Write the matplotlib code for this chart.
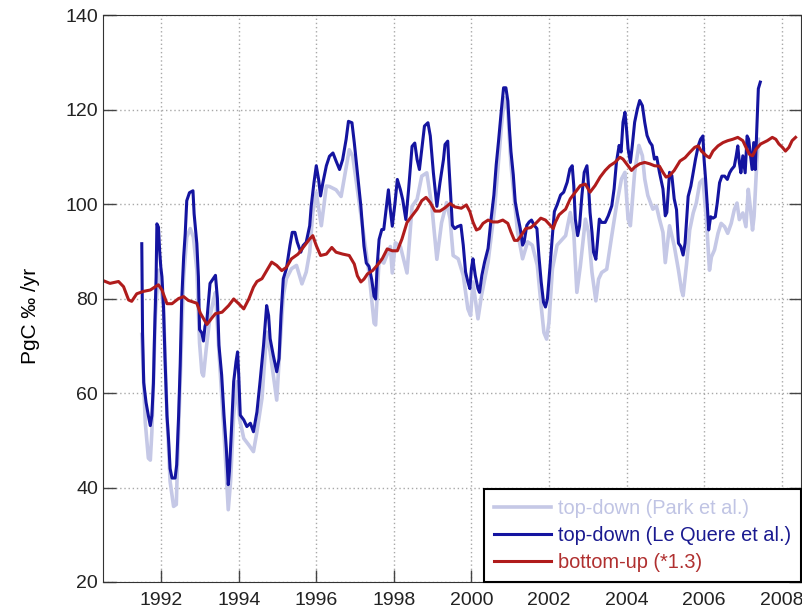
import matplotlib
matplotlib.use("Agg")
import matplotlib.pyplot as plt
from matplotlib.ticker import MultipleLocator

plt.rcParams['font.family'] = ['Liberation Sans', 'DejaVu Sans']

# top-down (Park et al.)
park_t = [1991.50, 1991.59, 1991.67, 1991.72, 1991.76, 1991.80, 1991.85, 1991.93, 1992.06, 1992.15,
          1992.23, 1992.32, 1992.39, 1992.42, 1992.49, 1992.58, 1992.66, 1992.75, 1992.83, 1992.92,
          1992.99, 1993.05, 1993.09, 1993.16, 1993.26, 1993.35, 1993.40, 1993.49, 1993.62, 1993.73,
          1993.79, 1993.87, 1993.96, 1994.02, 1994.13, 1994.26, 1994.38, 1994.47, 1994.60, 1994.72,
          1994.81, 1994.98, 1995.06, 1995.15, 1995.23, 1995.36, 1995.49, 1995.63, 1995.74, 1995.83,
          1995.91, 1996.00, 1996.13, 1996.26, 1996.34, 1996.51, 1996.64, 1996.85, 1996.94, 1997.06,
          1997.19, 1997.36, 1997.49, 1997.53, 1997.62, 1997.74, 1997.91, 1997.96, 1998.04, 1998.17,
          1998.34, 1998.47, 1998.60, 1998.72, 1998.85, 1998.98, 1999.11, 1999.23, 1999.36, 1999.45,
          1999.53, 1999.66, 1999.79, 1999.91, 1999.98, 2000.04, 2000.17, 2000.26, 2000.43, 2000.60,
          2000.77, 2000.85, 2000.94, 2001.02, 2001.19, 2001.32, 2001.45, 2001.57, 2001.70, 2001.79,
          2001.87, 2001.94, 2002.00, 2002.09, 2002.21, 2002.43, 2002.55, 2002.64, 2002.72, 2002.81,
          2002.94, 2003.02, 2003.11, 2003.21, 2003.28, 2003.36, 2003.49, 2003.62, 2003.74, 2003.87,
          2003.96, 2004.04, 2004.10, 2004.21, 2004.32, 2004.41, 2004.47, 2004.55, 2004.68, 2004.77,
          2004.85, 2004.94, 2005.00, 2005.11, 2005.23, 2005.34, 2005.42, 2005.46, 2005.55, 2005.63,
          2005.72, 2005.80, 2005.89, 2005.97, 2006.06, 2006.14, 2006.19, 2006.27, 2006.36, 2006.44,
          2006.53, 2006.61, 2006.70, 2006.78, 2006.85, 2006.91, 2007.00, 2007.08, 2007.14, 2007.19,
          2007.25, 2007.29, 2007.36, 2007.40]
park_v = [72.4, 53.8, 46.2, 45.8, 51.7, 62.0, 76.2, 86.0, 78.3, 55.2,
          41.3, 36.0, 36.4, 44.8, 62.2, 84.6, 93.0, 94.8, 93.0, 86.0,
          70.6, 64.3, 63.6, 69.2, 76.2, 79.7, 81.3, 68.7, 51.8, 35.3,
          41.3, 55.3, 62.4, 54.6, 50.4, 49.0, 47.6, 51.8, 58.9, 72.9,
          68.7, 58.5, 69.4, 80.6, 84.2, 86.3, 87.0, 83.1, 85.6, 89.8,
          98.2, 102.4, 95.4, 103.8, 103.7, 103.0, 101.6, 111.5, 110.1, 103.0,
          95.4, 85.4, 74.8, 74.4, 88.3, 87.5, 91.0, 85.4, 91.8, 91.0,
          85.4, 99.5, 101.0, 105.9, 106.6, 99.5, 88.3, 96.0, 100.3, 96.9,
          89.1, 88.4, 84.9, 77.8, 76.4, 83.5, 75.7, 80.6, 87.7, 99.1,
          116.1, 122.5, 119.6, 108.3, 94.1, 88.4, 92.0, 91.3, 87.0, 79.2,
          72.8, 71.4, 75.0, 86.3, 91.3, 93.3, 98.2, 94.0, 81.3, 86.9,
          96.8, 94.0, 85.5, 79.5, 84.1, 85.5, 86.2, 93.3, 99.6, 105.3,
          106.7, 96.8, 95.4, 106.7, 112.4, 110.2, 105.3, 101.8, 98.9, 99.6,
          96.8, 94.0, 87.6, 95.4, 91.2, 86.0, 81.7, 80.6, 87.4, 94.5,
          98.1, 100.2, 104.5, 105.2, 96.7, 86.0, 88.8, 90.3, 93.8, 95.9,
          95.2, 93.8, 95.9, 98.8, 100.2, 96.7, 98.1, 95.2, 103.1, 99.5,
          94.5, 97.4, 108.8, 113.7]

# top-down (Le Quere et al.)
lq_t = [1991.50, 1991.52, 1991.55, 1991.61, 1991.67, 1991.72, 1991.76, 1991.80, 1991.83, 1991.87,
        1991.89, 1991.93, 1991.96, 1991.99, 1992.02, 1992.06, 1992.10, 1992.15, 1992.19, 1992.23,
        1992.28, 1992.36, 1992.40, 1992.45, 1992.49, 1992.53, 1992.58, 1992.62, 1992.66, 1992.73,
        1992.82, 1992.85, 1992.92, 1992.96, 1992.99, 1993.05, 1993.09, 1993.13, 1993.18, 1993.26,
        1993.35, 1993.40, 1993.45, 1993.49, 1993.56, 1993.62, 1993.68, 1993.73, 1993.76, 1993.81,
        1993.87, 1993.93, 1993.97, 1994.00, 1994.04, 1994.13, 1994.21, 1994.30, 1994.38, 1994.47,
        1994.55, 1994.64, 1994.72, 1994.77, 1994.81, 1994.89, 1994.98, 1995.04, 1995.09, 1995.15,
        1995.23, 1995.32, 1995.38, 1995.45, 1995.51, 1995.60, 1995.66, 1995.74, 1995.83, 1995.87,
        1995.94, 1996.00, 1996.06, 1996.11, 1996.17, 1996.26, 1996.34, 1996.43, 1996.51, 1996.60,
        1996.68, 1996.77, 1996.83, 1996.92, 1996.98, 1997.06, 1997.15, 1997.23, 1997.29, 1997.36,
        1997.43, 1997.49, 1997.53, 1997.57, 1997.62, 1997.69, 1997.74, 1997.80, 1997.86, 1997.91,
        1997.96, 1998.03, 1998.09, 1998.17, 1998.23, 1998.31, 1998.38, 1998.47, 1998.54, 1998.60,
        1998.66, 1998.72, 1998.79, 1998.88, 1998.94, 1999.02, 1999.11, 1999.19, 1999.28, 1999.32,
        1999.39, 1999.42, 1999.47, 1999.51, 1999.57, 1999.64, 1999.73, 1999.79, 1999.85, 1999.91,
        1999.96, 2000.00, 2000.04, 2000.10, 2000.17, 2000.21, 2000.27, 2000.34, 2000.43, 2000.51,
        2000.58, 2000.64, 2000.70, 2000.77, 2000.83, 2000.89, 2000.94, 2000.98, 2001.02, 2001.08,
        2001.13, 2001.19, 2001.26, 2001.32, 2001.36, 2001.43, 2001.49, 2001.55, 2001.62, 2001.69,
        2001.74, 2001.80, 2001.86, 2001.91, 2001.96, 2002.03, 2002.09, 2002.14, 2002.21, 2002.30,
        2002.38, 2002.47, 2002.54, 2002.60, 2002.64, 2002.68, 2002.74, 2002.79, 2002.85, 2002.91,
        2002.98, 2003.02, 2003.06, 2003.11, 2003.15, 2003.21, 2003.25, 2003.30, 2003.36, 2003.45,
        2003.53, 2003.62, 2003.68, 2003.74, 2003.81, 2003.86, 2003.91, 2003.96, 2004.00, 2004.04,
        2004.10, 2004.15, 2004.21, 2004.28, 2004.34, 2004.41, 2004.47, 2004.53, 2004.60, 2004.66,
        2004.72, 2004.78, 2004.85, 2004.94, 2005.00, 2005.04, 2005.11, 2005.17, 2005.23, 2005.29,
        2005.34, 2005.40, 2005.46, 2005.51, 2005.55, 2005.59, 2005.66, 2005.72, 2005.78, 2005.85,
        2005.91, 2005.97, 2006.00, 2006.04, 2006.09, 2006.12, 2006.17, 2006.23, 2006.29, 2006.34,
        2006.40, 2006.46, 2006.53, 2006.60, 2006.66, 2006.71, 2006.78, 2006.83, 2006.87, 2006.91,
        2006.95, 2007.00, 2007.06, 2007.11, 2007.15, 2007.19, 2007.24, 2007.28, 2007.32, 2007.36,
        2007.40, 2007.45]
lq_v = [91.6, 72.7, 62.2, 58.0, 55.2, 53.1, 55.2, 62.0, 72.7, 84.6,
        95.8, 95.1, 90.2, 86.7, 84.6, 78.3, 67.1, 55.2, 50.3, 44.0,
        42.0, 42.0, 44.8, 55.2, 65.7, 79.7, 88.8, 93.7, 100.7, 102.4,
        102.8, 97.9, 91.6, 84.6, 73.4, 72.7, 71.0, 74.1, 75.5, 83.2,
        84.3, 84.9, 80.0, 70.1, 63.8, 55.3, 48.3, 40.6, 43.4, 51.8,
        62.4, 66.6, 68.7, 63.8, 55.3, 54.3, 52.9, 53.6, 51.8, 56.0,
        62.4, 70.1, 78.5, 76.4, 71.5, 68.0, 64.5, 67.3, 76.4, 84.2,
        86.3, 91.2, 94.0, 94.0, 91.9, 89.8, 91.2, 91.9, 95.4, 99.6,
        104.5, 108.1, 105.2, 101.7, 104.5, 108.1, 110.1, 110.8, 109.1, 107.3,
        109.4, 113.7, 117.5, 117.2, 113.0, 106.6, 99.5, 91.1, 87.5, 86.8,
        84.0, 80.5, 79.9, 86.9, 92.5, 94.6, 94.6, 98.8, 103.0, 98.8,
        95.3, 100.2, 105.2, 103.0, 100.9, 96.7, 103.0, 112.2, 112.9, 109.4,
        107.3, 111.5, 116.5, 117.2, 114.4, 106.6, 99.5, 104.5, 109.4, 112.6,
        113.3, 108.3, 101.2, 95.5, 94.8, 95.2, 95.5, 91.3, 85.6, 83.5,
        82.1, 86.3, 88.4, 84.9, 82.1, 81.3, 84.9, 87.7, 90.6, 97.0,
        101.9, 108.3, 113.3, 119.6, 124.6, 124.6, 121.8, 116.1, 111.1, 106.2,
        100.5, 97.7, 94.8, 91.3, 92.0, 95.5, 96.2, 96.6, 95.5, 94.8,
        89.1, 83.5, 79.2, 78.2, 79.9, 87.0, 93.4, 98.4, 99.8, 101.9,
        102.5, 104.6, 107.4, 108.1, 103.9, 96.8, 93.3, 95.4, 101.8, 106.7,
        108.1, 103.9, 98.2, 94.0, 89.8, 88.3, 91.9, 96.8, 96.1, 96.1,
        97.5, 99.6, 103.2, 108.8, 112.4, 111.0, 117.3, 119.4, 115.9, 111.7,
        108.8, 112.4, 117.3, 120.1, 121.9, 120.8, 117.3, 114.5, 113.1, 112.4,
        109.5, 109.9, 106.7, 103.2, 97.5, 98.2, 106.7, 106.0, 101.1, 98.8,
        91.7, 91.0, 89.2, 91.7, 96.7, 101.6, 103.8, 106.6, 109.5, 112.3,
        113.7, 114.4, 109.5, 105.2, 98.8, 94.5, 97.3, 97.0, 97.3, 100.2,
        104.5, 105.9, 105.9, 105.2, 106.6, 107.3, 108.0, 110.2, 112.3, 108.8,
        106.6, 110.2, 106.6, 114.4, 113.7, 110.9, 107.3, 113.0, 107.3, 115.9,
        124.4, 125.8]

# bottom-up (*1.3)
bu_t = [1990.50, 1990.68, 1990.90, 1991.03, 1991.16, 1991.24, 1991.37, 1991.54, 1991.72, 1991.85,
        1991.93, 1992.02, 1992.15, 1992.28, 1992.45, 1992.58, 1992.70, 1992.92, 1993.01, 1993.18,
        1993.31, 1993.40, 1993.57, 1993.74, 1993.87, 1994.00, 1994.13, 1994.26, 1994.38, 1994.47,
        1994.60, 1994.72, 1994.85, 1994.98, 1995.11, 1995.23, 1995.36, 1995.53, 1995.70, 1995.83,
        1995.91, 1996.00, 1996.11, 1996.26, 1996.40, 1996.51, 1996.68, 1996.85, 1996.98, 1997.06,
        1997.15, 1997.23, 1997.32, 1997.45, 1997.57, 1997.70, 1997.83, 1997.96, 1998.09, 1998.21,
        1998.34, 1998.47, 1998.60, 1998.72, 1998.83, 1998.94, 1999.06, 1999.19, 1999.32, 1999.45,
        1999.57, 1999.74, 1999.87, 1999.96, 2000.04, 2000.13, 2000.21, 2000.30, 2000.43, 2000.55,
        2000.68, 2000.81, 2000.94, 2001.02, 2001.11, 2001.19, 2001.29, 2001.40, 2001.53, 2001.66,
        2001.79, 2001.91, 2002.03, 2002.11, 2002.17, 2002.26, 2002.37, 2002.43, 2002.55, 2002.68,
        2002.81, 2002.94, 2003.06, 2003.19, 2003.32, 2003.45, 2003.57, 2003.70, 2003.83, 2003.91,
        2004.04, 2004.13, 2004.21, 2004.34, 2004.47, 2004.60, 2004.72, 2004.85, 2004.94, 2005.02,
        2005.11, 2005.23, 2005.38, 2005.51, 2005.63, 2005.76, 2005.85, 2005.93, 2006.06, 2006.14,
        2006.23, 2006.36, 2006.49, 2006.61, 2006.74, 2006.87, 2007.00, 2007.08, 2007.17, 2007.25,
        2007.34, 2007.46, 2007.63, 2007.76, 2007.85, 2007.93, 2008.02, 2008.10, 2008.19, 2008.27,
        2008.36]
bu_v = [83.8, 83.2, 83.6, 82.5, 79.7, 79.4, 81.0, 81.5, 81.8, 82.5,
        82.9, 81.8, 78.9, 78.9, 80.0, 80.4, 79.6, 79.0, 76.9, 74.5,
        75.9, 76.8, 77.1, 78.5, 79.9, 78.9, 77.8, 79.9, 82.4, 83.6,
        84.2, 85.9, 87.7, 87.0, 85.9, 86.6, 88.4, 89.4, 91.2, 92.6,
        93.3, 91.2, 89.1, 89.4, 90.8, 89.8, 89.4, 89.1, 87.3, 84.8,
        83.5, 84.1, 85.2, 85.9, 87.0, 88.4, 90.5, 90.1, 90.1, 92.6,
        96.1, 97.5, 98.9, 100.7, 101.4, 100.3, 98.5, 98.5, 99.2, 100.1,
        99.4, 99.1, 99.8, 98.4, 96.2, 94.5, 94.8, 95.9, 96.6, 96.2,
        96.2, 96.6, 95.9, 94.1, 92.3, 92.3, 93.4, 94.8, 95.0, 95.9,
        97.0, 96.6, 95.5, 94.8, 96.2, 97.7, 98.5, 98.9, 101.1, 102.5,
        103.9, 104.2, 102.5, 103.9, 105.7, 107.1, 108.1, 108.8, 109.9, 109.5,
        108.1, 107.1, 107.8, 108.5, 108.8, 108.5, 108.1, 108.0, 106.7, 105.7,
        106.0, 107.1, 109.1, 109.8, 110.9, 112.0, 112.3, 111.2, 110.2, 109.8,
        111.2, 112.3, 113.0, 113.4, 113.7, 114.1, 113.4, 112.0, 110.5, 110.2,
        111.6, 112.7, 113.4, 114.1, 113.7, 112.7, 112.0, 111.2, 112.0, 113.4,
        114.1]

fig = plt.figure(figsize=(8.02, 6.13), dpi=100)
ax = fig.add_axes([103/802, 1 - 582/613, 698/802, 567/613])

ax.plot(park_t, park_v, color='#c5c8e6', lw=2.6, label='top-down (Park et al.)')
ax.plot(lq_t, lq_v, color='#1414a0', lw=2.2, label='top-down (Le Quere et al.)')
ax.plot(bu_t, bu_v, color='#b01c1c', lw=2.2, label='bottom-up (*1.3)')

ax.set_xlim(1990.5, 2008.5)
ax.set_ylim(20, 140)
ax.xaxis.set_major_locator(MultipleLocator(2))
ax.yaxis.set_major_locator(MultipleLocator(20))
ax.grid(True, color='#a8a8a8', linestyle=(0, (1, 2)), linewidth=1)
ax.tick_params(direction='in', length=9, width=1, labelsize=14, color='#444444',
               labelcolor='#222222', right=True, top=False)
ax.tick_params(axis='x', pad=7)
for s in ax.spines.values():
    s.set_color('#333333')

ax.set_ylabel('PgC \u2030 /yr', fontsize=15)
ax.yaxis.set_label_coords(-0.09, 0.47)

leg = ax.legend(loc='lower right', fontsize=14.4, borderaxespad=0, fancybox=False,
                framealpha=1, edgecolor='black', handlelength=2.85, handletextpad=0.35,
                labelspacing=0.4, borderpad=0.5)
leg.get_frame().set_linewidth(1.5)
for txt, c in zip(leg.get_texts(), ['#c0c4e4', '#1a1a90', '#b03030']):
    txt.set_color(c)

fig.savefig('out.png', dpi=100)
